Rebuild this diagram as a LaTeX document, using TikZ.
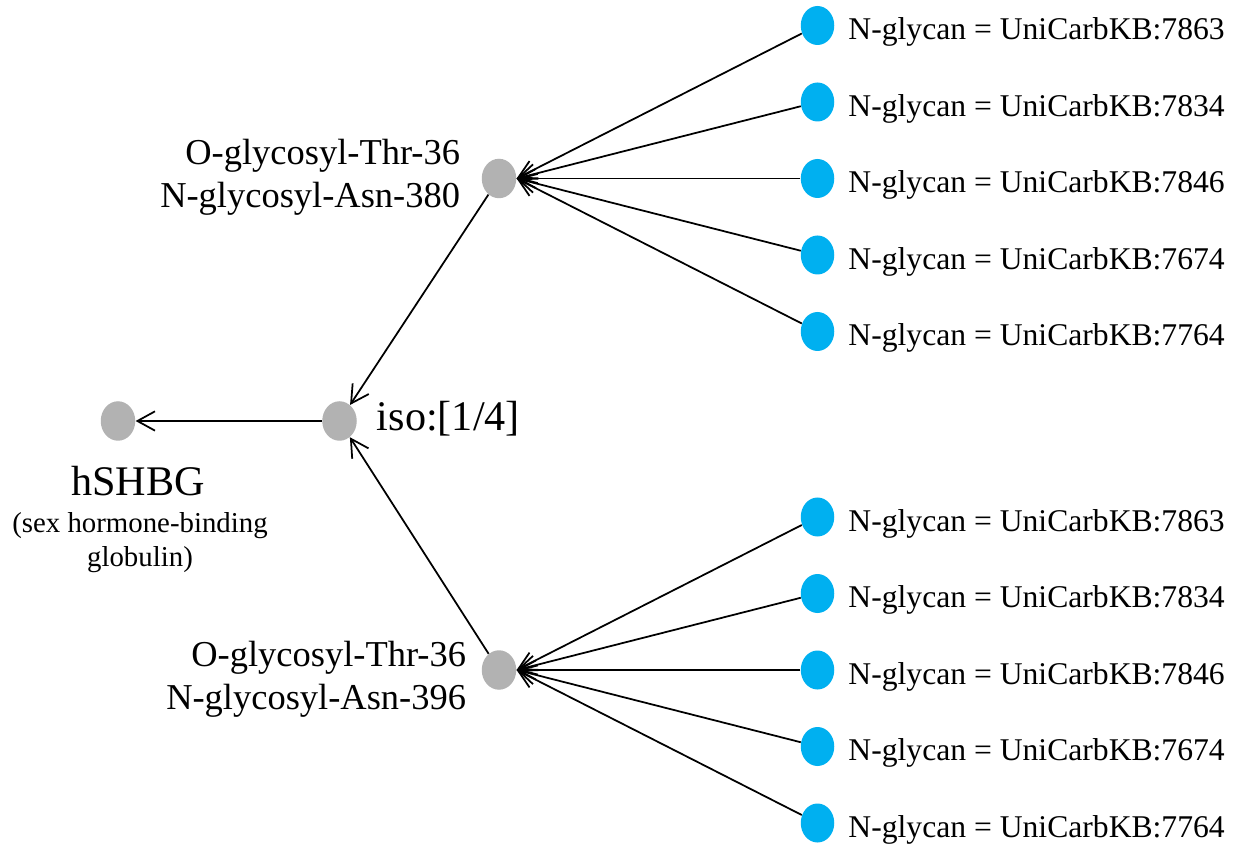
\documentclass[tikz,border=0pt]{standalone}
\usepackage{fontspec}
\setmainfont{Liberation Serif}
\usetikzlibrary{shapes.geometric,arrows.meta}
\definecolor{protgrey}{RGB}{178,178,178}
\definecolor{glyblue}{RGB}{0,176,240}
\begin{document}
\begin{tikzpicture}[node distance=1.53cm]
\tikzstyle{prot}=[ellipse,fill=protgrey,minimum width=0.69cm,minimum height=0.79cm,inner sep=0]
\tikzstyle{gly}=[ellipse,fill=glyblue,minimum width=0.67cm,minimum height=0.78cm,inner sep=0]
\tikzstyle{gl}=[anchor=base west,inner sep=0,label distance=0.27cm,yshift=-0.286cm,font=\fontsize{18}{21.6}\selectfont]
\tikzstyle{sl}=[align=right,inner sep=0,font=\fontsize{20.75}{24.7}\selectfont]
\tikzstyle{arr}=[-{Straight Barb[length=10pt,width=11pt]},line width=1pt]
\useasboundingbox (0,0) rectangle (24.66,-16.9);
\node[prot,label={[anchor=base,inner sep=0,xshift=0.4cm,yshift=-1.085cm,font=\fontsize{24}{28.8}\selectfont]below:hSHBG},
  label={[align=center,inner sep=0,xshift=0.44cm,yshift=-1.43cm,font=\fontsize{16.4}{19.1}\selectfont]below:(sex hormone-binding\\globulin)}] (hshbg) at (2.36,-8.42) {};
\node[prot,right of=hshbg,xshift=2.9cm,
  label={[anchor=base west,inner sep=0,label distance=0.39cm,yshift=-0.19cm,font=\fontsize{24}{28.8}\selectfont]right:{iso:[1/4]}}] (iso) {};
\node[prot,above of=iso,xshift=3.19cm,yshift=3.32cm,
  label={[sl,label distance=0.42cm,yshift=0.02cm]left:O-glycosyl-Thr-36\\N-glycosyl-Asn-380}] (s1) {};
\node[prot,below of=iso,xshift=3.19cm,yshift=-3.45cm,
  label={[sl,label distance=0.3cm,yshift=-0.18cm]left:O-glycosyl-Thr-36\\N-glycosyl-Asn-396}] (s2) {};
% glycans on site 1
\node[gly,right of=s1,xshift=4.84cm,label={[gl]right:{N-glycan = UniCarbKB:7846}}] (b13) {};
\node[gly,above of=b13,label={[gl]right:{N-glycan = UniCarbKB:7834}}] (b12) {};
\node[gly,above of=b12,label={[gl]right:{N-glycan = UniCarbKB:7863}}] (b11) {};
\node[gly,below of=b13,label={[gl]right:{N-glycan = UniCarbKB:7674}}] (b14) {};
\node[gly,below of=b14,label={[gl]right:{N-glycan = UniCarbKB:7764}}] (b15) {};
% glycans on site 2
\node[gly,right of=s2,xshift=4.84cm,label={[gl]right:{N-glycan = UniCarbKB:7846}}] (b23) {};
\node[gly,above of=b23,label={[gl]right:{N-glycan = UniCarbKB:7834}}] (b22) {};
\node[gly,above of=b22,label={[gl]right:{N-glycan = UniCarbKB:7863}}] (b21) {};
\node[gly,below of=b23,label={[gl]right:{N-glycan = UniCarbKB:7674}}] (b24) {};
\node[gly,below of=b24,label={[gl]right:{N-glycan = UniCarbKB:7764}}] (b25) {};
\draw[arr] (b11)--(s1.east);
\draw[arr] (b12)--(s1.east);
\draw[arr] (b13)--(s1.east);
\draw[arr] (b14)--(s1.east);
\draw[arr] (b15)--(s1.east);
\draw[arr] (b21)--(s2.east);
\draw[arr] (b22)--(s2.east);
\draw[arr] (b23)--(s2.east);
\draw[arr] (b24)--(s2.east);
\draw[arr] (b25)--(s2.east);
\draw[arr] (s1)--(iso);
\draw[arr] (s2)--(iso);
\draw[arr] (iso)--(hshbg);
\end{tikzpicture}
\end{document}
